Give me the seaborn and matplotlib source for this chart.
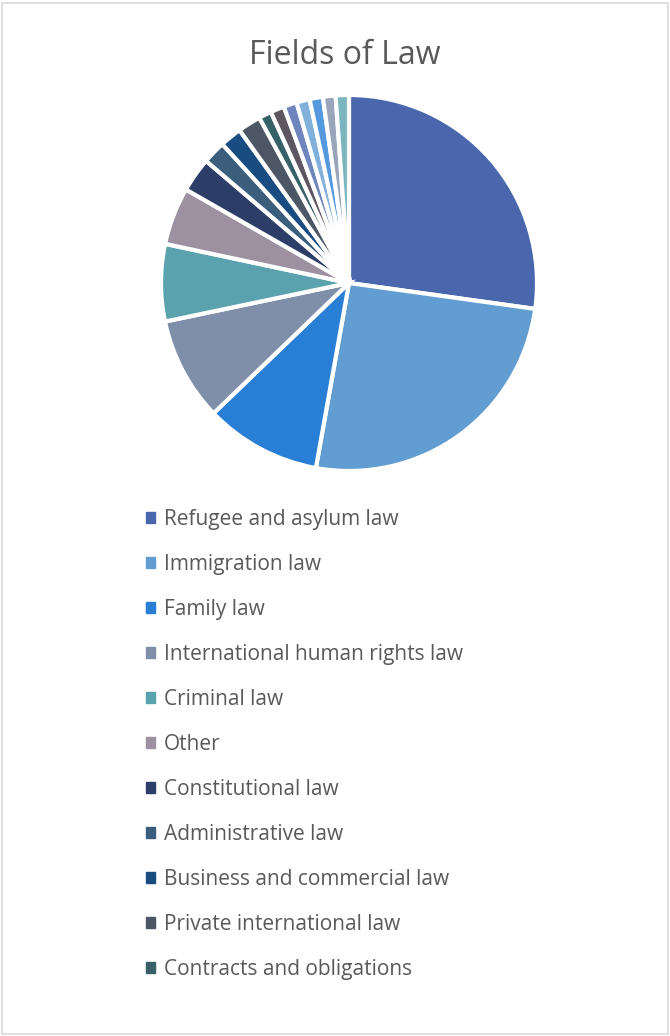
import matplotlib
matplotlib.use("Agg")
import matplotlib.pyplot as plt
import matplotlib.patches as mpatches
import seaborn as sns

fields = ["Refugee and asylum law", "Immigration law", "Family law",
          "International human rights law", "Criminal law", "Other",
          "Constitutional law", "Administrative law", "Business and commercial law",
          "Private international law", "Contracts and obligations",
          "Field 12", "Field 13", "Field 14", "Field 15", "Field 16", "Field 17"]
shares = [27.5, 25.9, 10.1, 9.0, 6.7, 5.0, 3.0, 2.0, 1.9, 2.0,
          1.1, 1.2, 1.15, 1.15, 1.15, 1.1, 1.15]
colors = ["#4A66AC", "#629DD1", "#297FD5", "#7F8FA9", "#5AA2AE", "#9D90A0",
          "#2C3D67", "#3B5E7D", "#194C80", "#4C5665", "#366168", "#5E5660",
          "#6E85BD", "#81B1DA", "#5499DD", "#99A5BA", "#7BB5BE"]
n_legend = 11

sns.set_theme(style="white")
plt.rcParams["font.family"] = ["Open Sans", "DejaVu Sans"]

fig = plt.figure(figsize=(6.7, 10.36), dpi=100)
fig.patches.append(mpatches.Rectangle((0.003, 0.002), 0.994, 0.995, transform=fig.transFigure,
                                      fill=False, edgecolor="#D9D9D9", linewidth=1.2))

fig.text(345 / 670, 1 - 56 / 1036, "Fields of Law", ha="center", va="center",
         fontsize=23, color="#595959")

ax = fig.add_axes([(349 - 188) / 670, 1 - 471 / 1036, 376 / 670, 376 / 1036])
wedges, _ = ax.pie(shares, colors=colors, startangle=90, counterclock=False,
                   wedgeprops=dict(edgecolor="white", linewidth=3))
ax.set_xlim(-1, 1)
ax.set_ylim(-1, 1)
ax.set_aspect("equal")
ax.axis("off")

# Excel only showed the first 11 entries in the legend
handles = [mpatches.Patch(color=c) for c in colors[:n_legend]]
fig.legend(handles, fields[:n_legend], loc="upper left",
           bbox_to_anchor=(146 / 670, 1 - 509 / 1036), frameon=False,
           fontsize=15, labelcolor="#595959", handlelength=0.42, handleheight=0.42,
           handletextpad=0.45, labelspacing=1.15, borderpad=0, borderaxespad=0)

fig.savefig("out.png", dpi=100, facecolor="white")
